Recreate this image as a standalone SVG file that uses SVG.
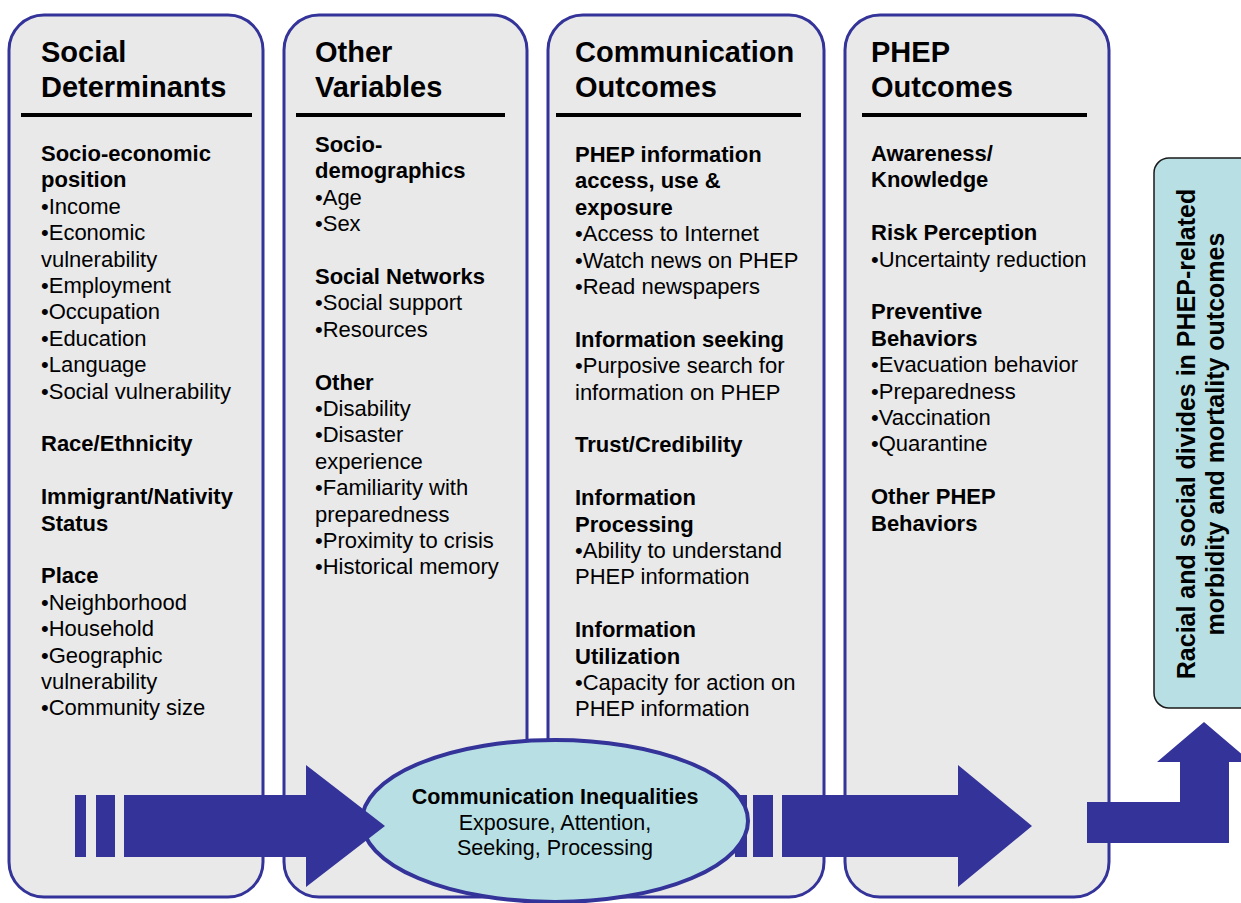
<svg xmlns="http://www.w3.org/2000/svg" width="1241" height="903" viewBox="0 0 1241 903">
  <style>
    .col { fill: #e9e9e9; stroke: #333399; stroke-width: 3; }
    .rule { stroke: #000; stroke-width: 4; }
    .head { font-family: "Liberation Sans", Arial, sans-serif; font-size: 29px; font-weight: bold; fill: #000; }
    .body { font-family: "Liberation Sans", Arial, sans-serif; font-size: 22px; fill: #000; }
    .b { font-weight: bold; }
    .arrow { fill: #333399; }
    .hub { fill: #b8e0e4; stroke: #333399; stroke-width: 4; }
    .hubtxt { font-family: "Liberation Sans", Arial, sans-serif; font-size: 21.5px; fill: #000; text-anchor: middle; }
    .result { fill: #b8e0e4; stroke: #1a1a1a; stroke-width: 1.5; }
    .restxt { font-family: "Liberation Sans", Arial, sans-serif; font-size: 25px; font-weight: bold; fill: #000; text-anchor: middle; }
  </style>
  <defs>
    <!-- area outside the central ellipse, used to trim the bar it sits over -->
    <clipPath id="outsideHub">
      <path clip-rule="evenodd" d="M0 0H1241V903H0Z M362 821a193 81 0 1 0 386 0a193 81 0 1 0 -386 0Z"/>
    </clipPath>
  </defs>

  <rect width="1241" height="903" fill="#fff"/>

  <!-- Column 1 -->
  <g id="social-determinants">
    <rect class="col" x="9" y="15" width="254" height="882" rx="35"/>
    <text class="head"><tspan x="41" y="62">Social</tspan><tspan x="41" y="97">Determinants</tspan></text>
    <line class="rule" x1="21" y1="115" x2="252" y2="115"/>
    <text class="body">
      <tspan x="41" y="161" class="b">Socio-economic</tspan>
      <tspan x="41" y="187.4" class="b">position</tspan>
      <tspan x="41" y="213.8">•Income</tspan>
      <tspan x="41" y="240.2">•Economic</tspan>
      <tspan x="41" y="266.6">vulnerability</tspan>
      <tspan x="41" y="293">•Employment</tspan>
      <tspan x="41" y="319.4">•Occupation</tspan>
      <tspan x="41" y="345.8">•Education</tspan>
      <tspan x="41" y="372.2">•Language</tspan>
      <tspan x="41" y="398.6">•Social vulnerability</tspan>
      <tspan x="41" y="451.4" class="b">Race/Ethnicity</tspan>
      <tspan x="41" y="504.2" class="b">Immigrant/Nativity</tspan>
      <tspan x="41" y="530.6" class="b">Status</tspan>
      <tspan x="41" y="583.4" class="b">Place</tspan>
      <tspan x="41" y="609.8">•Neighborhood</tspan>
      <tspan x="41" y="636.2">•Household</tspan>
      <tspan x="41" y="662.6">•Geographic</tspan>
      <tspan x="41" y="689">vulnerability</tspan>
      <tspan x="41" y="715.4">•Community size</tspan>
    </text>
  </g>

  <!-- Column 2 -->
  <g id="other-variables">
    <rect class="col" x="284" y="15" width="243" height="882" rx="35"/>
    <text class="head"><tspan x="315" y="62">Other</tspan><tspan x="315" y="97">Variables</tspan></text>
    <line class="rule" x1="296" y1="115" x2="505" y2="115"/>
    <text class="body">
      <tspan x="315" y="152" class="b">Socio-</tspan>
      <tspan x="315" y="178.4" class="b">demographics</tspan>
      <tspan x="315" y="204.8">•Age</tspan>
      <tspan x="315" y="231.2">•Sex</tspan>
      <tspan x="315" y="284" class="b">Social Networks</tspan>
      <tspan x="315" y="310.4">•Social support</tspan>
      <tspan x="315" y="336.8">•Resources</tspan>
      <tspan x="315" y="389.6" class="b">Other</tspan>
      <tspan x="315" y="416">•Disability</tspan>
      <tspan x="315" y="442.4">•Disaster</tspan>
      <tspan x="315" y="468.8">experience</tspan>
      <tspan x="315" y="495.2">•Familiarity with</tspan>
      <tspan x="315" y="521.6">preparedness</tspan>
      <tspan x="315" y="548">•Proximity to crisis</tspan>
      <tspan x="315" y="574.4">•Historical memory</tspan>
    </text>
  </g>

  <!-- Column 3 -->
  <g id="communication-outcomes">
    <rect class="col" x="548" y="15" width="276" height="882" rx="35"/>
    <text class="head"><tspan x="575" y="62">Communication</tspan><tspan x="575" y="97">Outcomes</tspan></text>
    <line class="rule" x1="556" y1="115" x2="801" y2="115"/>
    <text class="body">
      <tspan x="575" y="162" class="b">PHEP information</tspan>
      <tspan x="575" y="188.4" class="b">access, use &amp;</tspan>
      <tspan x="575" y="214.8" class="b">exposure</tspan>
      <tspan x="575" y="241.2">•Access to Internet</tspan>
      <tspan x="575" y="267.6">•Watch news on PHEP</tspan>
      <tspan x="575" y="294">•Read newspapers</tspan>
      <tspan x="575" y="346.8" class="b">Information seeking</tspan>
      <tspan x="575" y="373.2">•Purposive search for</tspan>
      <tspan x="575" y="399.6">information on PHEP</tspan>
      <tspan x="575" y="452.4" class="b">Trust/Credibility</tspan>
      <tspan x="575" y="505.2" class="b">Information</tspan>
      <tspan x="575" y="531.6" class="b">Processing</tspan>
      <tspan x="575" y="558">•Ability to understand</tspan>
      <tspan x="575" y="584.4">PHEP information</tspan>
      <tspan x="575" y="637.2" class="b">Information</tspan>
      <tspan x="575" y="663.6" class="b">Utilization</tspan>
      <tspan x="575" y="690">•Capacity for action on</tspan>
      <tspan x="575" y="716.4">PHEP information</tspan>
    </text>
  </g>

  <!-- Column 4 -->
  <g id="phep-outcomes">
    <rect class="col" x="845" y="15" width="264" height="882" rx="35"/>
    <text class="head"><tspan x="871" y="62">PHEP</tspan><tspan x="871" y="97">Outcomes</tspan></text>
    <line class="rule" x1="862" y1="115" x2="1087" y2="115"/>
    <text class="body">
      <tspan x="871" y="161" class="b">Awareness/</tspan>
      <tspan x="871" y="187.4" class="b">Knowledge</tspan>
      <tspan x="871" y="240.2" class="b">Risk Perception</tspan>
      <tspan x="871" y="266.6">•Uncertainty reduction</tspan>
      <tspan x="871" y="319.4" class="b">Preventive</tspan>
      <tspan x="871" y="345.8" class="b">Behaviors</tspan>
      <tspan x="871" y="372.2">•Evacuation behavior</tspan>
      <tspan x="871" y="398.6">•Preparedness</tspan>
      <tspan x="871" y="425">•Vaccination</tspan>
      <tspan x="871" y="451.4">•Quarantine</tspan>
      <tspan x="871" y="504.2" class="b">Other PHEP</tspan>
      <tspan x="871" y="530.6" class="b">Behaviors</tspan>
    </text>
  </g>

  <!-- Outcome box at the right -->
  <g id="health-divides">
    <rect class="result" x="1154" y="158" width="110" height="550" rx="15"/>
    <text class="restxt" transform="translate(1195,434) rotate(-90)">Racial and social divides in PHEP-related</text>
    <text class="restxt" transform="translate(1224,434) rotate(-90)">morbidity and mortality outcomes</text>
  </g>

  <!-- Central mediator -->
  <g id="communication-inequalities">
    <ellipse class="hub" cx="555" cy="821" rx="193" ry="81"/>
    <text class="hubtxt"><tspan x="555" y="804" font-weight="bold">Communication Inequalities</tspan><tspan x="555" y="830">Exposure, Attention,</tspan><tspan x="555" y="855">Seeking, Processing</tspan></text>
  </g>

  <!-- Block arrows -->
  <g id="connectors">
    <g id="arrow-determinants-to-inequalities">
      <rect class="arrow" x="75" y="795" width="11" height="62"/>
      <rect class="arrow" x="96" y="795" width="19" height="62"/>
      <polygon class="arrow" points="124,795 306,795 306,765 385,826 306,887 306,857 124,857"/>
    </g>
    <g id="arrow-inequalities-to-outcomes">
      <rect class="arrow" x="735" y="795" width="12" height="62" clip-path="url(#outsideHub)"/>
      <rect class="arrow" x="753" y="795" width="20" height="62"/>
      <polygon class="arrow" points="782,795 958,795 958,765 1032,826 958,887 958,857 782,857"/>
    </g>
    <g id="arrow-outcomes-to-divides">
      <polygon class="arrow" points="1087,802 1180,802 1180,762 1157,762 1204,722 1251,762 1229,762 1229,843 1087,843"/>
    </g>
  </g>
</svg>
